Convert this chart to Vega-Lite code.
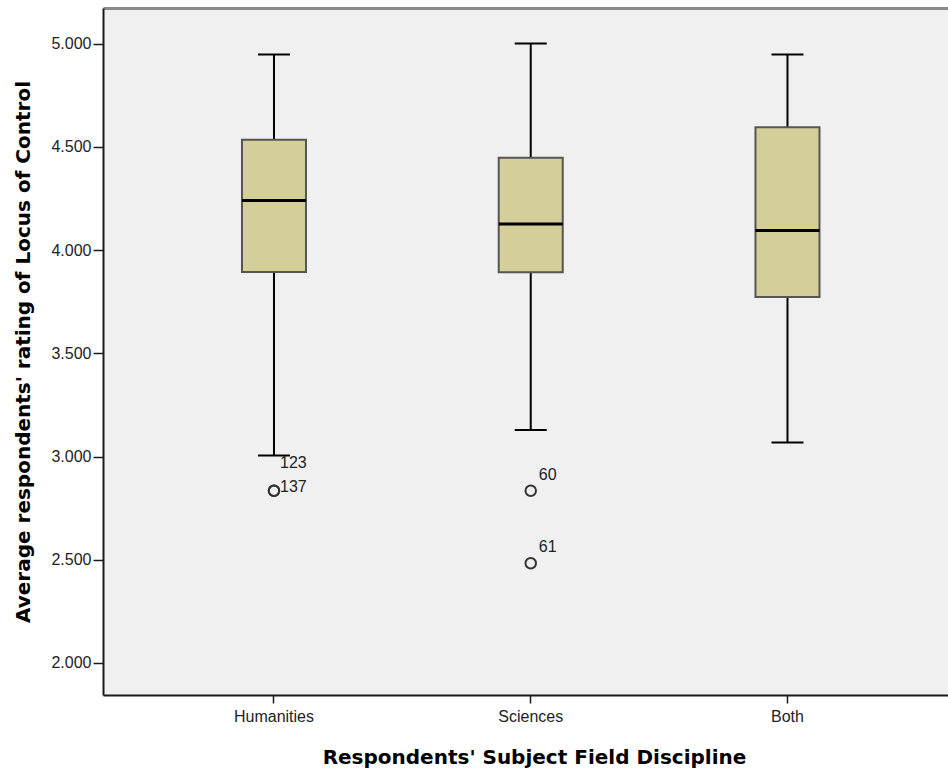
{
  "$schema": "https://vega.github.io/schema/vega-lite/v6.json",
  "width": 845,
  "height": 687,
  "autosize": {"type": "none"},
  "padding": {"left": 103, "top": 8, "right": 0, "bottom": 75},
  "background": "white",
  "config": {
    "view": {"fill": "#F0F0F0", "stroke": null},
    "font": "Liberation Sans"
  },
  "datasets": {
    "boxes": [
      {"group": "Humanities", "lower": 3.005, "q1": 3.894, "median": 4.240, "q3": 4.534, "upper": 4.947},
      {"group": "Sciences", "lower": 3.128, "q1": 3.892, "median": 4.126, "q3": 4.447, "upper": 5.0},
      {"group": "Both", "lower": 3.068, "q1": 3.773, "median": 4.095, "q3": 4.594, "upper": 4.947}
    ],
    "outliers": [
      {"group": "Humanities", "value": 2.834, "label": "123"},
      {"group": "Humanities", "value": 2.834, "label": "137"},
      {"group": "Sciences", "value": 2.834, "label": "60"},
      {"group": "Sciences", "value": 2.483, "label": "61"}
    ]
  },
  "resolve": {"axis": {"x": "independent", "y": "independent"}},
  "layer": [
    {
      "data": {"name": "boxes"},
      "mark": {"type": "rule", "color": "#000000", "strokeWidth": 2},
      "encoding": {
        "x": {
          "field": "group", "type": "nominal", "sort": ["Humanities", "Sciences", "Both"],
          "scale": {"type": "band", "paddingInner": 0, "paddingOuter": 0.1456, "align": 0.57},
          "axis": {
            "orient": "bottom", "title": "Respondents' Subject Field Discipline",
            "labelAngle": 0, "labelFontSize": 16, "labelColor": "#222222", "labelPadding": 5,
            "tickSize": 8, "tickColor": "#1a1a1a", "tickWidth": 1.5,
            "domainColor": "#1a1a1a", "domainWidth": 2,
            "titleFont": "DejaVu Sans", "titleFontSize": 20, "titleFontWeight": "bold", "titleColor": "#000000", "titlePadding": 23,
            "titleX": 431
          }
        },
        "y": {
          "field": "lower", "type": "quantitative",
          "scale": {"domain": [1.845, 5.172], "nice": false, "zero": false},
          "axis": {
            "title": "Average respondents' rating of Locus of Control",
            "values": [2, 2.5, 3, 3.5, 4, 4.5, 5], "format": ".3f", "grid": false,
            "labelFontSize": 16, "labelColor": "#222222", "labelPadding": 2,
            "tickSize": 10, "tickColor": "#1a1a1a", "tickWidth": 1.5,
            "domainColor": "#1a1a1a", "domainWidth": 2,
            "titleFont": "DejaVu Sans", "titleFontSize": 20, "titleFontWeight": "bold", "titleColor": "#000000", "titlePadding": 17
          }
        },
        "y2": {"field": "upper"}
      }
    },
    {
      "data": {"name": "boxes"},
      "mark": {"type": "bar", "fill": "#D4CF99", "stroke": "#555555", "strokeWidth": 2, "size": 64},
      "encoding": {
        "x": {
          "field": "group", "type": "nominal", "sort": ["Humanities", "Sciences", "Both"],
          "axis": {"orient": "top", "labels": false, "ticks": false, "title": null, "domainColor": "#8a8a8a", "domainWidth": 3}
        },
        "y": {"field": "q1", "type": "quantitative", "axis": null},
        "y2": {"field": "q3"}
      }
    },
    {
      "data": {"name": "boxes"},
      "mark": {"type": "tick", "color": "#000000", "size": 64, "thickness": 3, "opacity": 1},
      "encoding": {
        "x": {"field": "group", "type": "nominal", "sort": ["Humanities", "Sciences", "Both"], "axis": null},
        "y": {"field": "median", "type": "quantitative", "axis": null}
      }
    },
    {
      "data": {"name": "boxes"},
      "mark": {"type": "tick", "color": "#000000", "size": 32, "thickness": 2, "opacity": 1},
      "encoding": {
        "x": {"field": "group", "type": "nominal", "sort": ["Humanities", "Sciences", "Both"], "axis": null},
        "y": {"field": "upper", "type": "quantitative", "axis": null}
      }
    },
    {
      "data": {"name": "boxes"},
      "mark": {"type": "tick", "color": "#000000", "size": 32, "thickness": 2, "opacity": 1},
      "encoding": {
        "x": {"field": "group", "type": "nominal", "sort": ["Humanities", "Sciences", "Both"], "axis": null},
        "y": {"field": "lower", "type": "quantitative", "axis": null}
      }
    },
    {
      "data": {"name": "outliers"},
      "mark": {"type": "point", "shape": "circle", "filled": false, "size": 110, "stroke": "#333333", "strokeWidth": 2, "opacity": 1},
      "encoding": {
        "x": {"field": "group", "type": "nominal", "sort": ["Humanities", "Sciences", "Both"], "axis": null},
        "y": {"field": "value", "type": "quantitative", "axis": null}
      }
    },
    {
      "data": {"name": "outliers"},
      "transform": [{"filter": "datum.group === 'Sciences'"}],
      "mark": {"type": "text", "align": "left", "baseline": "alphabetic", "dx": 8, "dy": -11, "fontSize": 16, "color": "#222222"},
      "encoding": {
        "x": {"field": "group", "type": "nominal", "sort": ["Humanities", "Sciences", "Both"], "axis": null},
        "y": {"field": "value", "type": "quantitative", "axis": null},
        "text": {"field": "label"}
      }
    },
    {
      "data": {"name": "outliers"},
      "transform": [{"filter": "datum.label === '137'"}],
      "mark": {"type": "text", "align": "left", "baseline": "alphabetic", "dx": 6, "dy": 1, "fontSize": 16, "color": "#222222"},
      "encoding": {
        "x": {"field": "group", "type": "nominal", "sort": ["Humanities", "Sciences", "Both"], "axis": null},
        "y": {"field": "value", "type": "quantitative", "axis": null},
        "text": {"field": "label"}
      }
    },
    {
      "data": {"name": "outliers"},
      "transform": [{"filter": "datum.label === '123'"}],
      "mark": {"type": "text", "align": "left", "baseline": "alphabetic", "dx": 6, "dy": -23, "fontSize": 16, "color": "#222222"},
      "encoding": {
        "x": {"field": "group", "type": "nominal", "sort": ["Humanities", "Sciences", "Both"], "axis": null},
        "y": {"field": "value", "type": "quantitative", "axis": null},
        "text": {"field": "label"}
      }
    }
  ]
}
